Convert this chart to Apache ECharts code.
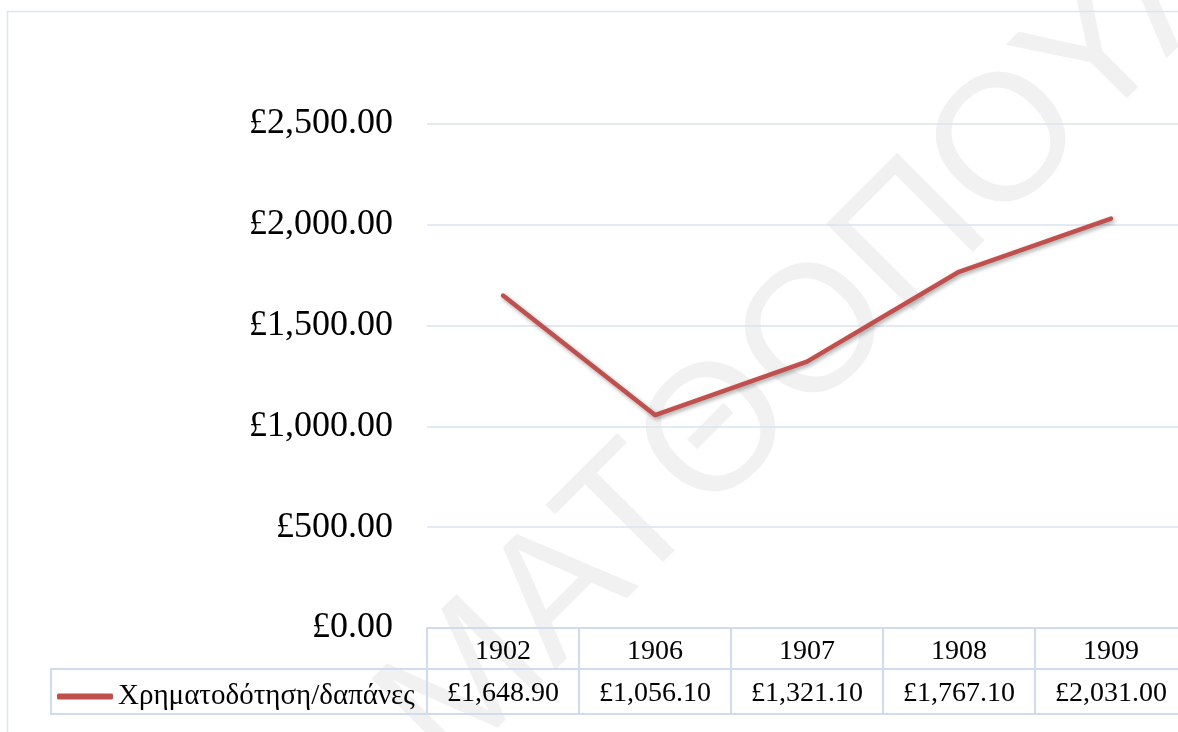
<!DOCTYPE html>
<html lang="el">
<head>
    <meta charset="UTF-8">
    <title>Χρηματοδότηση/δαπάνες</title>
    <script type="text/javascript" src="https://cdn.jsdelivr.net/npm/echarts@6/dist/echarts.min.js"></script>
    <style>
        html, body { margin: 0; padding: 0; background: #fff; }
    </style>
</head>
<body>
<div id="main" style="width: 1178px;height:732px;"></div>
<script>
    // έτη
    var years = ['1902', '1906', '1907', '1908', '1909'];
    // χρηματοδότηση/δαπάνες
    var spending = [1648.90, 1056.10, 1321.10, 1767.10, 2031.00];
    var seriesName = 'Χρηματοδότηση/δαπάνες';
    var yTicks = [0, 500, 1000, 1500, 2000, 2500];

    var serif = '"Liberation Serif", "Times New Roman", serif';
    var tableColor = '#cfdcee';
    var gridColor = '#d8e3f1';

    function money(v) {
        return '£' + Number(v).toLocaleString('en-US', {minimumFractionDigits: 2, maximumFractionDigits: 2});
    }

    var option = {
        animation: false,
        grid: {
            left: 427,
            top: 124,
            width: 760,
            height: 504,
            outerBoundsMode: 'none'
        },
        legend: {
            data: [seriesName],
            left: 52,
            top: 677,
            icon: 'roundRect',
            itemWidth: 56,
            itemHeight: 6,
            textStyle: {fontFamily: serif, fontSize: 29, color: '#000'}
        },
        xAxis: [
            {
                type: 'category',
                data: years,
                axisLine: {lineStyle: {color: tableColor, width: 2}},
                axisTick: {show: true, length: 41, interval: 0, lineStyle: {color: tableColor, width: 2}},
                axisLabel: {margin: 10, fontFamily: serif, fontSize: 28, color: '#000', interval: 0}
            },
            {
                type: 'category',
                data: years,
                position: 'bottom',
                offset: 41,
                axisLine: {lineStyle: {color: tableColor, width: 2}},
                axisTick: {show: true, length: 45, interval: 0, lineStyle: {color: tableColor, width: 2}},
                axisLabel: {
                    margin: 11, fontFamily: serif, fontSize: 28, color: '#000', interval: 0,
                    formatter: function (v, i) { return money(spending[i]); }
                }
            }
        ],
        yAxis: {
            type: 'value',
            min: yTicks[0],
            max: yTicks[yTicks.length - 1],
            interval: 500,
            axisLine: {show: false},
            axisTick: {show: false},
            splitLine: {lineStyle: {color: gridColor, width: 1.5}},
            axisLabel: {margin: 34, fontFamily: serif, fontSize: 36, color: '#000', formatter: money}
        },
        graphic: [
            {
                type: 'text',
                z: 0,
                x: 903,
                y: 252,
                rotation: Math.PI / 4,
                style: {
                    text: 'ΜΑΤΘΟΠΟΥΛΟΥ',
                    font: '180px "Liberation Sans", Arial, sans-serif',
                    fill: 'rgba(0,0,0,0.055)',
                    align: 'center',
                    verticalAlign: 'middle'
                }
            },
            {
                // πλαίσιο γραφήματος
                type: 'rect',
                z: 0,
                shape: {x: 7.5, y: 11.5, width: 1300, height: 900},
                style: {fill: 'none', stroke: '#dce6f2', lineWidth: 1.5}
            },
            {
                // γραμμή τιμών του πίνακα
                type: 'rect',
                z: 1,
                shape: {x: 51, y: 669, width: 1300, height: 45},
                style: {fill: 'none', stroke: tableColor, lineWidth: 2}
            }
        ],
        series: [
            {
                name: seriesName,
                type: 'line',
                data: spending,
                symbol: 'none',
                z: 5,
                itemStyle: {color: '#c0504d'},
                lineStyle: {
                    color: '#c0504d',
                    width: 4.5,
                    cap: 'round',
                    join: 'round',
                    shadowColor: 'rgba(0,0,0,0.35)',
                    shadowBlur: 4,
                    shadowOffsetX: 1.5,
                    shadowOffsetY: 2
                }
            }
        ]
    };

    var myChart = echarts.init(document.getElementById('main'));
    myChart.setOption(option);
</script>
</body>
</html>
